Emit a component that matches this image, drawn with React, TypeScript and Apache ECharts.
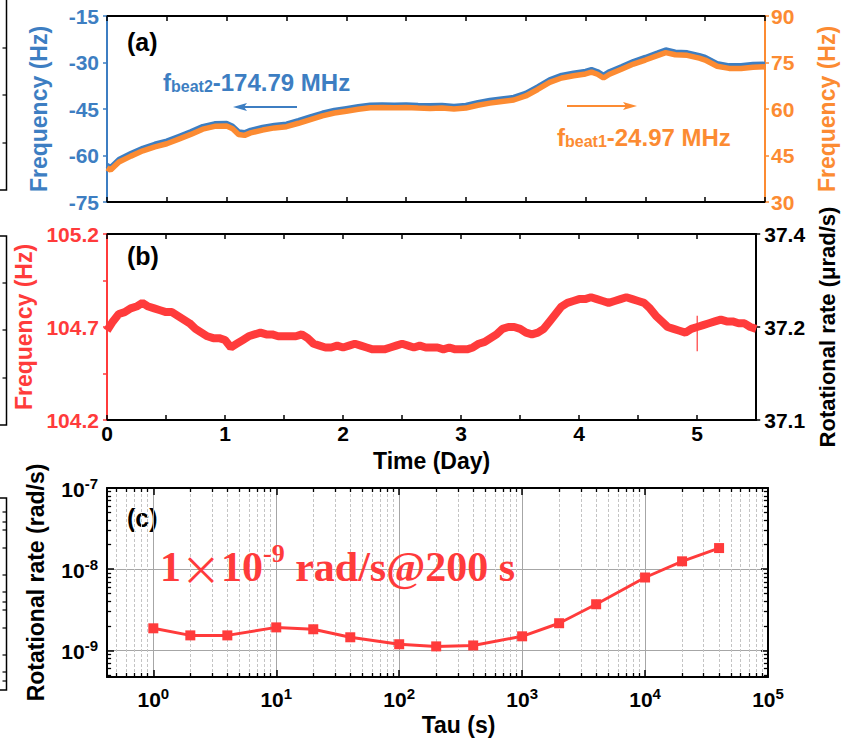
import React, { useEffect, useRef } from 'react';
import * as echarts from 'echarts';

const BLUE = '#3d7ec2';
const ORANGE = '#fc8b32';
const RED = '#ff3b3b';
const SANS = 'Liberation Sans, Arial, sans-serif';
const SERIF = 'Liberation Serif, Times New Roman, serif';

// Panel (a): time (day) and the two beat-note offsets
const timeA = [0, 0.03, 0.1, 0.2, 0.3, 0.4, 0.5, 0.6, 0.7, 0.8, 0.9, 1.0, 1.05, 1.1, 1.15, 1.2, 1.3, 1.4, 1.5, 1.6, 1.7, 1.8, 1.9, 2.0, 2.1, 2.2, 2.3, 2.4, 2.5, 2.6, 2.7, 2.8, 2.9, 3.0, 3.1, 3.2, 3.3, 3.4, 3.5, 3.6, 3.7, 3.8, 3.9, 4.0, 4.05, 4.1, 4.15, 4.2, 4.3, 4.4, 4.5, 4.6, 4.67, 4.75, 4.85, 4.95, 5.0, 5.1, 5.2, 5.3, 5.4, 5.5];
// f_beat1 - 24.97 MHz (Hz, right axis)
const beat1 = [41.0, 40.3, 42.9, 44.8, 46.5, 47.8, 48.8, 50.3, 51.8, 53.5, 54.4, 54.5, 53.6, 51.8, 51.5, 52.3, 53.2, 53.9, 54.3, 55.4, 56.6, 57.8, 58.7, 59.3, 59.9, 60.4, 60.5, 60.4, 60.5, 60.3, 60.2, 60.3, 60.0, 60.3, 61.2, 61.9, 62.4, 62.9, 64.2, 66.3, 68.6, 70.0, 70.7, 71.3, 71.9, 71.2, 70.0, 71.2, 72.8, 74.5, 75.8, 77.2, 78.2, 77.5, 77.3, 76.4, 75.8, 73.8, 73.1, 73.1, 73.5, 73.6];
// f_beat2 - 174.79 MHz (Hz, left axis)
const beat2 = [-63.1, -63.8, -61.2, -59.3, -57.6, -56.3, -55.3, -53.8, -52.3, -50.6, -49.7, -49.6, -50.5, -52.3, -52.6, -51.8, -50.9, -50.2, -49.8, -48.7, -47.5, -46.3, -45.4, -44.8, -44.2, -43.7, -43.6, -43.7, -43.6, -43.8, -43.9, -43.8, -44.1, -43.8, -42.9, -42.2, -41.7, -41.2, -39.9, -37.8, -35.5, -34.1, -33.4, -32.8, -32.2, -32.9, -34.1, -32.9, -31.3, -29.6, -28.3, -26.9, -25.9, -26.6, -26.8, -27.7, -28.3, -30.3, -31.0, -31.0, -30.6, -30.5];

// Panel (b): [day, Hz]
const traceB: [number, number][] = [
  [0.00, 104.68], [0.05, 104.73], [0.10, 104.77], [0.15, 104.78], [0.20, 104.80], [0.25, 104.81], [0.30, 104.83], [0.35, 104.81], [0.40, 104.80], [0.45, 104.79],
  [0.50, 104.78], [0.55, 104.78], [0.60, 104.76], [0.65, 104.74], [0.70, 104.72], [0.75, 104.69], [0.80, 104.67], [0.85, 104.65], [0.90, 104.64], [0.95, 104.64],
  [1.00, 104.63], [1.05, 104.59], [1.10, 104.61], [1.15, 104.63], [1.20, 104.65], [1.25, 104.66], [1.30, 104.67], [1.35, 104.66], [1.40, 104.66], [1.45, 104.65],
  [1.50, 104.65], [1.55, 104.65], [1.60, 104.65], [1.65, 104.66], [1.70, 104.64], [1.75, 104.61], [1.80, 104.60], [1.85, 104.59], [1.90, 104.59], [1.95, 104.60],
  [2.00, 104.59], [2.05, 104.60], [2.10, 104.61], [2.15, 104.60], [2.20, 104.59], [2.25, 104.58], [2.30, 104.58], [2.35, 104.58], [2.40, 104.59], [2.45, 104.60],
  [2.50, 104.61], [2.55, 104.60], [2.60, 104.59], [2.65, 104.60], [2.70, 104.59], [2.75, 104.59], [2.80, 104.59], [2.85, 104.58], [2.90, 104.59], [2.95, 104.58],
  [3.00, 104.58], [3.05, 104.58], [3.10, 104.59], [3.15, 104.61], [3.20, 104.62], [3.25, 104.64], [3.30, 104.66], [3.35, 104.69], [3.40, 104.70], [3.45, 104.70],
  [3.50, 104.69], [3.55, 104.67], [3.60, 104.66], [3.65, 104.67], [3.70, 104.69], [3.75, 104.73], [3.80, 104.77], [3.85, 104.81], [3.90, 104.83], [3.95, 104.84],
  [4.00, 104.85], [4.05, 104.85], [4.10, 104.86], [4.15, 104.85], [4.20, 104.84], [4.25, 104.83], [4.30, 104.84], [4.35, 104.85], [4.40, 104.86], [4.45, 104.85],
  [4.50, 104.84], [4.55, 104.83], [4.60, 104.80], [4.65, 104.76], [4.70, 104.73], [4.75, 104.70], [4.80, 104.69], [4.85, 104.68], [4.90, 104.67], [4.95, 104.69],
  [5.00, 104.70], [5.05, 104.71], [5.10, 104.72], [5.15, 104.73], [5.20, 104.74], [5.25, 104.73], [5.30, 104.73], [5.35, 104.72], [5.40, 104.72], [5.45, 104.70],
  [5.50, 104.69],
];
const spikeB: [number, number][] = [[5.0, 104.76], [5.0, 104.57]];
const freqLabelsB = [104.2, 104.7, 105.2];
const freqTicksB = [104.2, 104.45, 104.7, 104.95, 105.2];
const rateLabelsB: Record<string, string> = { '104.2': '37.1', '104.7': '37.2', '105.2': '37.4' };

// Panel (c): Allan deviation
const tau = [1, 2, 4, 10, 20, 40, 100, 200, 400, 1000, 2000, 4000, 10000, 20000, 40000];
const rotRate = [1.87e-9, 1.53e-9, 1.53e-9, 1.92e-9, 1.82e-9, 1.45e-9, 1.19e-9, 1.12e-9, 1.15e-9, 1.49e-9, 2.16e-9, 3.7e-9, 7.9e-9, 1.25e-8, 1.82e-8];

const X_MIN_C = 0.42;
const X_MAX_C = 1e5;
const Y_MIN_C = 4.7e-10;
const Y_MAX_C = 1e-7;

function logFmt(v: number) {
  const e = Math.log10(v);
  if (Math.abs(e - Math.round(e)) > 0.01) return '';
  return `{b|10}{s|${Math.round(e)}}`;
}

function minorValues(lo: number, hi: number) {
  const out: number[] = [];
  for (let d = -11; d <= 5; d++) {
    for (let k = 2; k <= 9; k++) {
      const v = k * Math.pow(10, d);
      if (v > lo * 1.0001 && v < hi * 0.9999) out.push(v);
    }
  }
  return out;
}

export default function App() {
  const ref = useRef<HTMLDivElement>(null);
  useEffect(() => {
    if (!ref.current) return;
    const chart = echarts.init(ref.current, undefined, { renderer: 'svg' });

    const tickLabel = (color: string) => ({ color, fontFamily: SANS, fontWeight: 'bold' as const, fontSize: 21 });
    const nameStyle = (color: string) => ({ color, fontFamily: SANS, fontWeight: 'bold' as const, fontSize: 23 });
    const blackLine = { onZero: false, lineStyle: { color: '#000', width: 2 } };
    const inTick = (len: number) => ({ inside: true, length: len, lineStyle: { color: '#000', width: 1.5 } });
    const gridSplit = { show: true, showMinLine: false, showMaxLine: false, lineStyle: { color: '#a6a6a6', width: 1 } };

    const logRich = {
      b: { fontFamily: SANS, fontWeight: 'bold' as const, fontSize: 21, lineHeight: 24, verticalAlign: 'bottom' as const, color: '#000' },
      s: { fontFamily: SANS, fontWeight: 'bold' as const, fontSize: 15, lineHeight: 12, verticalAlign: 'top' as const, color: '#000' },
    };

    const minorX = minorValues(X_MIN_C, X_MAX_C);
    const minorY = minorValues(Y_MIN_C, Y_MAX_C);
    const fx = 1.08;
    const fy = 1.12;
    const tickSegs: any[] = [];
    minorX.forEach((v) => {
      tickSegs.push([{ coord: [v, Y_MIN_C] }, { coord: [v, Y_MIN_C * fy] }]);
      tickSegs.push([{ coord: [v, Y_MAX_C] }, { coord: [v, Y_MAX_C / fy] }]);
    });
    minorY.forEach((v) => {
      tickSegs.push([{ coord: [X_MIN_C, v] }, { coord: [X_MIN_C * fx, v] }]);
      tickSegs.push([{ coord: [X_MAX_C, v] }, { coord: [X_MAX_C / fx, v] }]);
    });

    const remnant = (top: number, bottom: number, ticks: number[], withTop: boolean) => {
      const pts = withTop ? [[0, top], [6.5, top], [6.5, bottom], [0, bottom]] : [[6.5, top], [6.5, bottom], [0, bottom]];
      const els: any[] = [{ type: 'polyline', shape: { points: pts }, style: { stroke: '#000', lineWidth: 1.5, fill: null } }];
      ticks.forEach((y) => els.push({ type: 'line', shape: { x1: 2.5, y1: y, x2: 6.5, y2: y }, style: { stroke: '#000', lineWidth: 1.2 } }));
      return els;
    };

    const option: any = {
      animation: false,
      backgroundColor: '#fff',
      grid: [
        { left: 107, top: 16, width: 661, height: 186 },
        { left: 107, top: 234, width: 661, height: 186 },
        { left: 107, top: 488, width: 661, height: 189 },
      ],
      xAxis: [
        { gridIndex: 0, type: 'value', min: 0, max: 5.5, interval: 0.5, position: 'bottom', axisLine: blackLine, axisTick: inTick(5), axisLabel: { show: false }, splitLine: { show: false } },
        { gridIndex: 0, type: 'value', min: 0, max: 5.5, interval: 0.5, position: 'top', axisLine: blackLine, axisTick: inTick(5), axisLabel: { show: false }, splitLine: { show: false } },
        {
          gridIndex: 1, type: 'value', min: 0, max: 5.5, interval: 0.5, position: 'bottom', axisLine: blackLine, axisTick: inTick(5),
          axisLabel: { ...tickLabel('#000'), margin: 3, formatter: (v: number) => (Math.abs(v - Math.round(v)) < 1e-6 ? String(Math.round(v)) : '') },
          splitLine: { show: false },
          name: 'Time (Day)', nameLocation: 'middle', nameGap: 29, nameTextStyle: nameStyle('#000'),
        },
        { gridIndex: 1, type: 'value', min: 0, max: 5.5, interval: 0.5, position: 'top', axisLine: blackLine, axisTick: inTick(5), axisLabel: { show: false }, splitLine: { show: false } },
        {
          gridIndex: 2, type: 'log', min: X_MIN_C, max: X_MAX_C, position: 'bottom', axisLine: blackLine, axisTick: inTick(7),
          axisLabel: { formatter: logFmt, rich: logRich, margin: 9 },
          splitLine: gridSplit,
          name: 'Tau (s)', nameLocation: 'middle', nameGap: 36, nameTextStyle: { ...nameStyle('#000'), padding: [0, 0, 0, 42] },
        },
        { gridIndex: 2, type: 'log', min: X_MIN_C, max: X_MAX_C, position: 'top', axisLine: blackLine, axisTick: inTick(7), axisLabel: { show: false }, splitLine: { show: false } },
      ],
      yAxis: [
        {
          gridIndex: 0, type: 'value', min: -75, max: -15, interval: 15, position: 'left',
          axisLine: { onZero: false, lineStyle: { color: BLUE, width: 2 } }, axisTick: { inside: false, length: 4, lineStyle: { color: BLUE, width: 1.5 } },
          axisLabel: { ...tickLabel(BLUE), margin: 8 }, splitLine: { show: false },
          name: 'Frequency (Hz)', nameLocation: 'middle', nameRotate: 90, nameGap: 57, nameTextStyle: nameStyle(BLUE),
        },
        {
          gridIndex: 0, type: 'value', min: 30, max: 90, interval: 15, position: 'right',
          axisLine: { onZero: false, lineStyle: { color: ORANGE, width: 2 } }, axisTick: { inside: false, length: 4, lineStyle: { color: ORANGE, width: 1.5 } },
          axisLabel: { ...tickLabel(ORANGE), margin: 6 }, splitLine: { show: false },
          name: 'Frequency (Hz)', nameLocation: 'middle', nameRotate: 90, nameGap: 50, nameTextStyle: nameStyle(ORANGE),
        },
        {
          gridIndex: 1, type: 'value', min: 104.2, max: 105.2, position: 'left',
          axisLine: { onZero: false, lineStyle: { color: RED, width: 2 } },
          axisTick: { inside: false, length: 4, lineStyle: { color: RED, width: 1.5 }, customValues: freqTicksB },
          axisLabel: { ...tickLabel(RED), margin: 8, customValues: freqLabelsB, formatter: (v: number) => v.toFixed(1) },
          splitLine: { show: false },
          name: 'Frequency (Hz)', nameLocation: 'middle', nameRotate: 90, nameGap: 57, nameTextStyle: nameStyle(RED),
        },
        {
          gridIndex: 1, type: 'value', min: 104.2, max: 105.2, position: 'right',
          axisLine: { onZero: false, lineStyle: { color: '#000', width: 2 } },
          axisTick: { inside: false, length: 4, lineStyle: { color: '#000', width: 1.5 }, customValues: freqLabelsB },
          axisLabel: { ...tickLabel('#000'), margin: 8, customValues: freqLabelsB, formatter: (v: number) => rateLabelsB[v.toFixed(1)] ?? '' },
          splitLine: { show: false },
          name: 'Rotational rate (μrad/s)', nameLocation: 'middle', nameRotate: 90, nameGap: 55, nameTextStyle: { ...nameStyle('#000'), fontSize: 22 },
        },
        {
          gridIndex: 2, type: 'log', min: Y_MIN_C, max: Y_MAX_C, position: 'left', axisLine: blackLine, axisTick: inTick(7),
          axisLabel: { formatter: logFmt, rich: logRich, margin: 9 },
          splitLine: gridSplit,
          name: 'Rotational rate (rad/s)', nameLocation: 'middle', nameRotate: 90, nameGap: 60, nameTextStyle: nameStyle('#000'),
        },
        { gridIndex: 2, type: 'log', min: Y_MIN_C, max: Y_MAX_C, position: 'right', axisLine: blackLine, axisTick: inTick(7), axisLabel: { show: false }, splitLine: { show: false } },
      ],
      series: [
        {
          type: 'line', xAxisIndex: 0, yAxisIndex: 0, data: timeA.map((t, i) => [t, beat2[i]]), symbol: 'none', z: 2,
          lineStyle: { color: BLUE, width: 5 }, itemStyle: { color: BLUE },
        },
        {
          type: 'line', xAxisIndex: 0, yAxisIndex: 1, data: timeA.map((t, i) => [t, beat1[i]]), symbol: 'none', z: 3,
          lineStyle: { color: ORANGE, width: 5.5 }, itemStyle: { color: ORANGE },
        },
        {
          type: 'line', xAxisIndex: 2, yAxisIndex: 2, data: traceB, symbol: 'none', z: 3,
          lineStyle: { color: RED, width: 8 }, itemStyle: { color: RED },
        },
        {
          type: 'line', xAxisIndex: 2, yAxisIndex: 2, data: spikeB, symbol: 'none', z: 3,
          lineStyle: { color: RED, width: 1.2 }, itemStyle: { color: RED },
        },
        {
          type: 'line', xAxisIndex: 4, yAxisIndex: 4, data: [], symbol: 'none', z: 1, silent: true,
          markLine: {
            z: 1, silent: true, symbol: ['none', 'none'], label: { show: false },
            lineStyle: { color: '#c4c4c4', width: 1, type: [3, 2] },
            data: [...minorX.map((v) => ({ xAxis: v })), ...minorY.map((v) => ({ yAxis: v }))],
          },
        },
        {
          type: 'line', xAxisIndex: 4, yAxisIndex: 4, data: [], symbol: 'none', z: 4, silent: true,
          markLine: {
            z: 4, silent: true, symbol: ['none', 'none'], label: { show: false },
            lineStyle: { color: '#000', width: 1.3, type: 'solid' },
            data: tickSegs,
          },
        },
        {
          type: 'line', xAxisIndex: 4, yAxisIndex: 4, data: tau.map((t, i) => [t, rotRate[i]]), z: 5,
          symbol: 'rect', symbolSize: 10, lineStyle: { color: RED, width: 3 }, itemStyle: { color: RED },
        },
      ],
      graphic: [
        { type: 'text', x: 127, y: 42, style: { text: '(a)', fontFamily: SANS, fontWeight: 'bold', fontSize: 25, fill: '#000', verticalAlign: 'middle' } },
        { type: 'text', x: 127, y: 256, style: { text: '(b)', fontFamily: SANS, fontWeight: 'bold', fontSize: 25, fill: '#000', verticalAlign: 'middle' } },
        { type: 'text', x: 127, y: 518, style: { text: '(c)', fontFamily: SANS, fontWeight: 'bold', fontSize: 25, fill: '#000', verticalAlign: 'middle' } },
        {
          type: 'text', x: 163, y: 94,
          style: {
            text: '{m|f}{s|beat2}{m|-174.79 MHz}', verticalAlign: 'bottom', align: 'left',
            rich: {
              m: { fontFamily: SANS, fontWeight: 'bold', fontSize: 24, lineHeight: 28, verticalAlign: 'bottom', fill: BLUE },
              s: { fontFamily: SANS, fontWeight: 'bold', fontSize: 16, lineHeight: 8, verticalAlign: 'bottom', fill: BLUE },
            },
          },
        },
        {
          type: 'text', x: 557, y: 149,
          style: {
            text: '{m|f}{s|beat1}{m|-24.97 MHz}', verticalAlign: 'bottom', align: 'left',
            rich: {
              m: { fontFamily: SANS, fontWeight: 'bold', fontSize: 24, lineHeight: 28, verticalAlign: 'bottom', fill: ORANGE },
              s: { fontFamily: SANS, fontWeight: 'bold', fontSize: 16, lineHeight: 8, verticalAlign: 'bottom', fill: ORANGE },
            },
          },
        },
        { type: 'line', shape: { x1: 297, y1: 107, x2: 242, y2: 107 }, style: { stroke: BLUE, lineWidth: 2 } },
        { type: 'polygon', shape: { points: [[233, 107], [247, 103], [244, 107], [247, 111]] }, style: { fill: BLUE } },
        { type: 'line', shape: { x1: 567, y1: 106, x2: 628, y2: 106 }, style: { stroke: ORANGE, lineWidth: 2 } },
        { type: 'polygon', shape: { points: [[637, 106], [623, 102], [626, 106], [623, 110]] }, style: { fill: ORANGE } },
        {
          type: 'text', x: 160, y: 588, z: 10,
          style: {
            text: '{m|1}{x|×}{m|10}{s|-9}{m| rad/s@200 s}', verticalAlign: 'bottom', align: 'left',
            rich: {
              m: { fontFamily: SERIF, fontWeight: 'bold', fontSize: 42, lineHeight: 48, verticalAlign: 'bottom', fill: RED },
              x: { fontFamily: 'Noto Sans CJK SC', fontWeight: 'normal', fontSize: 40, lineHeight: 48, verticalAlign: 'bottom', fill: RED },
              s: { fontFamily: SERIF, fontWeight: 'bold', fontSize: 26, lineHeight: 26, verticalAlign: 'top', fill: RED },
            },
          },
        },
        ...remnant(0, 190, [48, 95, 143], false),
        ...remnant(236, 425, [283, 330, 378], true),
        ...remnant(498, 690, [512, 522, 530, 548, 575, 592, 602, 610, 628, 655, 672, 681], true),
      ],
    };

    chart.setOption(option);
    return () => chart.dispose();
  }, []);

  return <div ref={ref} style={{ position: 'fixed', left: 0, top: 0, width: 846, height: 742, background: '#fff' }} />;
}
